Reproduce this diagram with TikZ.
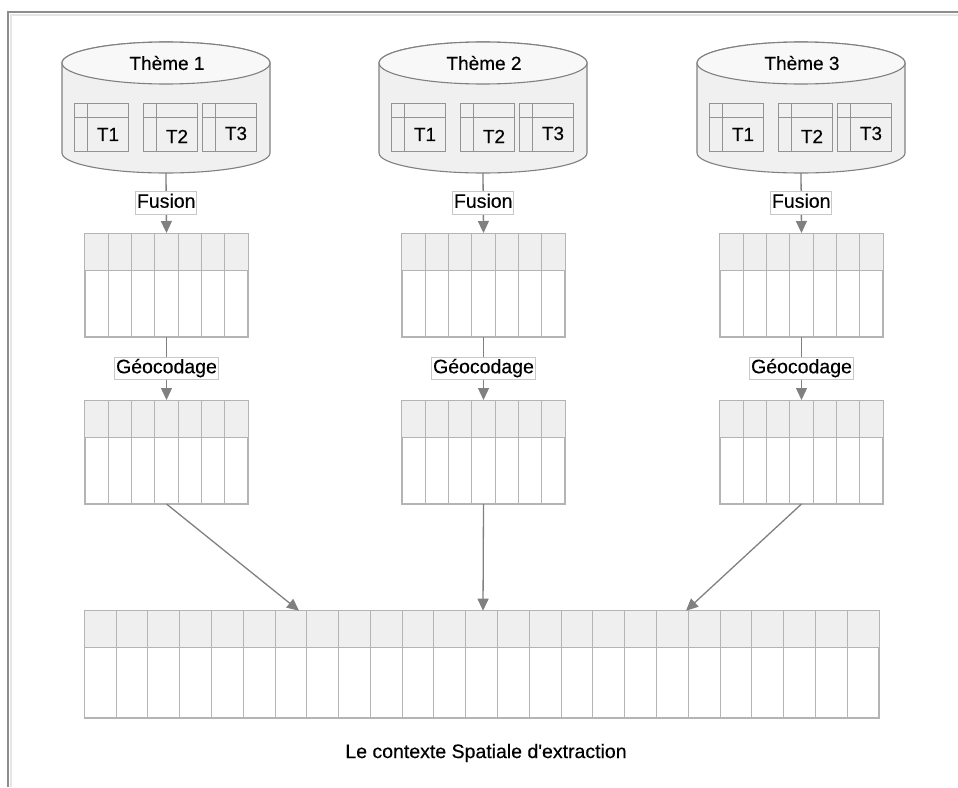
\documentclass[tikz,border=0pt]{standalone}
\usepackage{fontspec}
\setmainfont{Liberation Sans}[Ligatures=TeXOff, FakeBold=0.3]
\usepackage{tikz}
\usetikzlibrary{arrows.meta, calc}

\definecolor{lineGray}{HTML}{808080}
\definecolor{gridGray}{HTML}{B4B4B4}
\definecolor{headFill}{HTML}{EFEFEF}
\definecolor{cylFill}{HTML}{F0F0F0}
\definecolor{cylTop}{HTML}{F8F8F8}
\definecolor{boxLine}{HTML}{C8C8C8}

% grid of a table node: #1 node, #2 number of columns
\newcommand{\gridcols}[2]{%
  \fill[headFill] (#1.north west) rectangle ([yshift=-37pt]#1.north east);
  \pgfmathtruncatemacro{\lastcol}{#2-1}
  \foreach \c in {1,...,\lastcol}
    \draw[gridGray, line width=1pt] ($(#1.north west)!\c/#2!(#1.north east)$) -- ($(#1.south west)!\c/#2!(#1.south east)$);
  \draw[gridGray, line width=1pt] ([yshift=-37pt]#1.north west) -- ([yshift=-37pt]#1.north east);
  \draw[gridGray, line width=1pt] (#1.north west) rectangle (#1.south east);
}

% small table inside a database: #1 name, #2 left x, #3 label, #4 label shift
\newcommand{\minitab}[4]{%
  \node[minitab] (#1) at (#2,103) {};
  \draw[minitabline] ([yshift=-14pt]#1.north west) -- ([yshift=-14pt]#1.north east);
  \draw[minitabline] ([xshift=13pt]#1.north west) -- ([xshift=13pt]#1.south west);
  \node[tlbl, yshift=#4] (#1lbl) at ($([shift={(13pt,-14pt)}]#1.north west)!0.5!(#1.south east)$) {#3};
}

% database: #1 index, #2 center x, #3 title
\newcommand{\dbcyl}[3]{%
  \draw[cylbody] (#2-104,63) -- (#2-104,153)
    arc[start angle=180, end angle=360, x radius=104pt, y radius=20pt]
    -- (#2+104,63)
    arc[start angle=0, end angle=180, x radius=104pt, y radius=21pt] -- cycle;
  \draw[cylbody, fill=cylTop] (#2,63) ellipse[x radius=104pt, y radius=21pt];
  \node[themelbl] (theme#1) at (#2+1,63) {#3};
  \coordinate (db#1) at (#2,173);
  \minitab{t#1a}{#2-92}{T1}{0pt}
  \minitab{t#1b}{#2-23}{T2}{-2pt}
  \minitab{t#1c}{#2+36}{T3}{1pt}
}

\begin{document}
\begin{tikzpicture}[x=1pt, y=-1pt,
cylbody/.style={draw=lineGray, fill=cylFill, line width=1.1pt},
minitab/.style={draw=lineGray!85, fill=cylFill, line width=0.9pt, anchor=north west, minimum width=54pt, minimum height=48pt, inner sep=0pt},
minitabline/.style={draw=lineGray!85, line width=0.9pt},
tabnode/.style={draw=gridGray, fill=white, line width=1pt, anchor=north west, minimum width=162.4pt, minimum height=103pt, inner sep=0pt},
themelbl/.style={font=\fontsize{19}{22}\selectfont, inner sep=0pt},
tlbl/.style={font=\fontsize{19}{21}\selectfont, inner sep=0pt},
steplbl/.style={draw=boxLine, fill=white, line width=0.8pt, inner xsep=1.2pt, inner ysep=2pt, text height=14pt, text depth=4.5pt, font=\fontsize{19.5}{22}\selectfont},
flow/.style={draw=lineGray, line width=1.3pt, -{Triangle[length=12pt, width=11pt]}},
]
\useasboundingbox (0,0) rectangle (958,787);

%Frame
\draw[lineGray!90, line width=1.8pt] (8,787) -- (8,12) -- (958,12);
\draw[gray!20, line width=1.2pt] (11,787) -- (11,15) -- (958,15);

%Databases
\dbcyl{1}{166}{Thème 1}
\dbcyl{2}{483}{Thème 2}
\dbcyl{3}{801}{Thème 3}

%Tables
\node[tabnode] (tf1) at (84.8,233) {};
\node[tabnode] (tf2) at (401.8,233) {};
\node[tabnode] (tf3) at (719.8,233) {};
\node[tabnode] (tg1) at (84.8,400) {};
\node[tabnode] (tg2) at (401.8,400) {};
\node[tabnode] (tg3) at (719.8,400) {};
\node[tabnode, minimum width=793.7pt, minimum height=106.6pt] (bt) at (84.3,610.7) {};
\gridcols{tf1}{7}
\gridcols{tf2}{7}
\gridcols{tf3}{7}
\gridcols{tg1}{7}
\gridcols{tg2}{7}
\gridcols{tg3}{7}
\gridcols{bt}{25}

\coordinate (in1) at (299,610.7);
\coordinate (in2) at (483,610.7);
\coordinate (in3) at (686,610.7);

\node[font=\fontsize{19.5}{22}\selectfont] (caption) at (486,753) {Le contexte Spatiale d'extraction};

%Lines
\draw[flow] (db1) -- (tf1.north) node[steplbl, midway] (fu1) {Fusion};
\draw[flow] (db2) -- (tf2.north) node[steplbl, midway] (fu2) {Fusion};
\draw[flow] (db3) -- (tf3.north) node[steplbl, midway] (fu3) {Fusion};
\draw[flow] (tf1.south) -- (tg1.north) node[steplbl, midway] (ge1) {Géocodage};
\draw[flow] (tf2.south) -- (tg2.north) node[steplbl, midway] (ge2) {Géocodage};
\draw[flow] (tf3.south) -- (tg3.north) node[steplbl, midway] (ge3) {Géocodage};
\draw[flow] (tg1.south) -- (in1);
\draw[flow] (tg2.south) -- (in2);
\draw[flow] (tg3.south) -- (in3);

\end{tikzpicture}
\end{document}
